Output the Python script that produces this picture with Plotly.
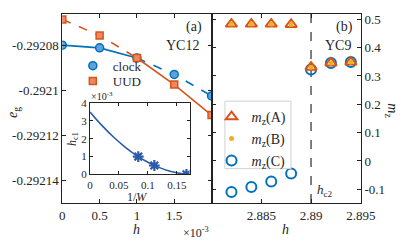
import plotly.graph_objects as go

# ---- data ----
# panel (a): YC12, h in units of 1e-3
h_a = [0, 0.5, 1.0, 1.5, 2.0]
eg_clock = [-0.292080, -0.2920812, -0.2920857, -0.292093, -0.2921025]
eg_uud = [-0.2920686, -0.2920757, -0.2920857, -0.2920975, -0.292111]

# inset: h_c1 (x 1e-3) versus 1/W
invW_pts = [1/12, 1/9, 1/6]
hc1_pts = [1.0, 0.5, 0.0]
invW_fit = [0, 0.02, 0.04, 0.06, 0.08, 0.10, 0.12, 0.14, 0.16, 0.172]
hc1_fit = [3.5, 2.76, 2.11, 1.55, 1.07, 0.68, 0.38, 0.16, 0.03, 0.0]

# panel (b): YC9
h_b = [2.882, 2.884, 2.886, 2.888, 2.890, 2.892, 2.894]
mz_A = [0.483, 0.483, 0.483, 0.482, 0.331, 0.346, 0.349]
mz_B = [0.483, 0.483, 0.483, 0.482, 0.331, 0.346, 0.349]
mz_C = [-0.109, -0.092, -0.072, -0.044, 0.323, 0.346, 0.349]
hc2 = 2.89

W, H = 415, 247
BLUE = "#0072BD"
ORANGE = "#D95319"
GOLD = "#EDB120"
FONT = "Liberation Serif"
TXT = "#262626"


def px(x):
    return x / W


def py(y):
    return 1 - y / H


fig = go.Figure()

# ---- panel (a) lines ----
fig.add_trace(go.Scatter(x=h_a[:3], y=eg_clock[:3], mode="lines",
                         line=dict(color=BLUE, width=1.6), showlegend=False))
fig.add_trace(go.Scatter(x=h_a[2:], y=eg_clock[2:], mode="lines",
                         line=dict(color=BLUE, width=1.6, dash="dash"), showlegend=False))
fig.add_trace(go.Scatter(x=h_a[:3], y=eg_uud[:3], mode="lines",
                         line=dict(color=ORANGE, width=1.6, dash="dash"), showlegend=False))
fig.add_trace(go.Scatter(x=h_a[2:], y=eg_uud[2:], mode="lines",
                         line=dict(color=ORANGE, width=1.6), showlegend=False))
fig.add_trace(go.Scatter(x=h_a, y=eg_clock, mode="markers", name="clock",
                         marker=dict(symbol="circle", size=8, color="#5FA2DA",
                                     line=dict(color=BLUE, width=1.5)),
                         legend="legend"))
fig.add_trace(go.Scatter(x=h_a, y=eg_uud, mode="markers", name="UUD",
                         marker=dict(symbol="square", size=7, color="#EA8A62",
                                     line=dict(color=ORANGE, width=1.5)),
                         legend="legend2"))

# ---- inset ----
fig.add_trace(go.Scatter(x=invW_fit, y=hc1_fit, mode="lines", xaxis="x3", yaxis="y3",
                         line=dict(color="#2B5BAA", width=1.6, shape="spline"),
                         showlegend=False))
fig.add_trace(go.Scatter(x=invW_pts, y=hc1_pts, mode="markers", xaxis="x3", yaxis="y3",
                         marker=dict(symbol="asterisk-open", size=9, color="#2B5BAA",
                                     line=dict(color="#2B5BAA", width=2.2)),
                         showlegend=False))

# ---- panel (b) ----
fig.add_trace(go.Scatter(x=[hc2, hc2], y=[-0.148, 0.52], mode="lines", xaxis="x2", yaxis="y2",
                         line=dict(color="#555555", width=1.5, dash="dash"),
                         showlegend=False))
fig.add_trace(go.Scatter(x=h_b, y=mz_C, mode="markers", xaxis="x2", yaxis="y2",
                         name="<i>m</i><sub>z</sub>(C)",
                         marker=dict(symbol="circle-open", size=10, color=BLUE,
                                     line=dict(color=BLUE, width=2)),
                         legend="legend5"))
fig.add_trace(go.Scatter(x=h_b, y=mz_A, mode="markers", xaxis="x2", yaxis="y2",
                         name="<i>m</i><sub>z</sub>(A)",
                         marker=dict(symbol="triangle-up-open", size=10, color=ORANGE,
                                     line=dict(color=ORANGE, width=2)),
                         legend="legend3"))
fig.add_trace(go.Scatter(x=h_b, y=mz_B, mode="markers", xaxis="x2", yaxis="y2",
                         name="<i>m</i><sub>z</sub>(B)",
                         marker=dict(symbol="circle", size=5, color=GOLD),
                         legend="legend4"))

axis_common = dict(showline=True, linecolor="#222", linewidth=1, mirror="ticks",
                   ticks="inside", ticklen=4, tickcolor="#222", showgrid=False,
                   zeroline=False, tickfont=dict(family=FONT, size=13, color=TXT))
inset_axis = {**axis_common, "tickfont": dict(family=FONT, size=11, color=TXT), "ticklen": 3}


def leg(mx, my, size=13):
    # legend anchored so its single marker is centred at screen pixel (mx, my)
    return dict(x=px(mx - 20), y=py(my - 15), xanchor="left", yanchor="top",
                bgcolor="rgba(0,0,0,0)", borderwidth=0, itemwidth=30,
                font=dict(family=FONT, size=size, color=TXT))


fig.update_layout(
    width=W, height=H,
    margin=dict(l=0, r=0, t=0, b=0),
    paper_bgcolor="white", plot_bgcolor="rgba(0,0,0,0)",
    font=dict(family=FONT, size=13, color=TXT),
    xaxis=dict(domain=[px(62), px(218)], range=[0, 2], anchor="y",
               tickvals=[0, 0.5, 1, 1.5, 2], ticktext=["0", "0.5", "1", "1.5", ""],
               **axis_common),
    yaxis=dict(domain=[py(207), py(8)], range=[-0.29215, -0.292066], anchor="x",
               tickvals=[-0.29214, -0.29212, -0.2921, -0.29208],
               ticktext=["-0.29214", "-0.29212", "-0.2921", "-0.29208"],
               **axis_common),
    xaxis2=dict(domain=[px(218), px(374)], range=[2.88, 2.895], anchor="y2",
                tickvals=[2.88, 2.885, 2.89, 2.895],
                ticktext=["", "2.885", "2.89", "2.895"], **axis_common),
    yaxis2=dict(domain=[py(207), py(8)], range=[-0.148, 0.52], anchor="x2", side="right",
                tickvals=[-0.1, 0, 0.1, 0.2, 0.3, 0.4, 0.5],
                ticktext=["-0.1", "0", "0.1", "0.2", "0.3", "0.4", "0.5"],
                **axis_common),
    xaxis3=dict(domain=[px(91), px(195)], range=[0, 0.172], anchor="y3",
                tickvals=[0, 0.05, 0.1, 0.15], ticktext=["0", "0.05", "0.1", "0.15"],
                **inset_axis),
    yaxis3=dict(domain=[py(177), py(102)], range=[0, 4], anchor="x3",
                tickvals=[0, 1, 2, 3, 4], ticktext=["0", "1", "2", "3", "4"],
                **inset_axis),
    legend=leg(93, 62),
    legend2=leg(93, 78),
    legend3=leg(238, 115, 14),
    legend4=leg(238, 138, 14),
    legend5=leg(238, 161, 14),
    shapes=[dict(type="rect", xref="paper", yref="paper",
                 x0=px(232), x1=px(301), y0=py(171), y1=py(100),
                 line=dict(color="#D0D0D0", width=1), fillcolor="white", layer="above")],
)

ann = [
    dict(x=px(200), y=py(22), text="(a)", size=14),
    dict(x=px(188), y=py(42), text="YC12", size=14),
    dict(x=px(357), y=py(22), text="(b)", size=14),
    dict(x=px(350), y=py(41), text="YC9", size=14),
    dict(x=px(337), y=py(194), text="<i>h</i><sub>c2</sub>", size=13),
    dict(x=px(140), y=py(235), text="<i>h</i>", size=14),
    dict(x=px(295), y=py(235), text="<i>h</i>", size=14),
    dict(x=px(202), y=py(238), text="×10<sup>-3</sup>", size=12),
    dict(x=px(104), y=py(95), text="×10<sup>-3</sup>", size=10),
    dict(x=px(140), y=py(201), text="1/<i>W</i>", size=12),
    dict(x=px(11), y=py(112), text="<i>e</i><sub>g</sub>", size=14, angle=-90),
    dict(x=px(73), y=py(140), text="<i>h</i><sub>c1</sub>", size=12, angle=-90),
    dict(x=px(406), y=py(110), text="<i>m</i><sub>z</sub>", size=14, angle=90),
]
for a in ann:
    fig.add_annotation(x=a["x"], y=a["y"], xref="paper", yref="paper", text=a["text"],
                       showarrow=False, textangle=a.get("angle", 0),
                       xanchor="center", yanchor="middle",
                       font=dict(family=FONT, size=a["size"], color=TXT))

fig.write_html("out.html", config={"displayModeBar": False},
               post_script="document.body.style.margin='0';document.body.style.overflow='hidden';")
